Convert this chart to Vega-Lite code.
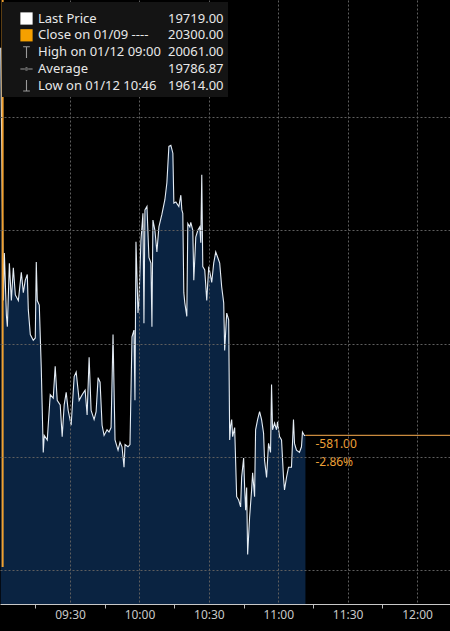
{
  "$schema": "https://vega.github.io/schema/vega-lite/v6.json",
  "width": 450,
  "height": 604,
  "autosize": {"type": "none"},
  "padding": {"left": 0, "top": 0, "right": 0, "bottom": 27},
  "background": "#000000",
  "config": {"view": {"stroke": null}, "font": "Noto Sans"},
  "datasets": {
    "series": [
      {"t": "2024-01-12T09:00:00", "p": 20061},
      {"t": "2024-01-12T09:01:10", "p": 19838},
      {"t": "2024-01-12T09:01:35", "p": 19880},
      {"t": "2024-01-12T09:02:28", "p": 19825},
      {"t": "2024-01-12T09:02:53", "p": 19815},
      {"t": "2024-01-12T09:03:45", "p": 19871},
      {"t": "2024-01-12T09:04:37", "p": 19838},
      {"t": "2024-01-12T09:05:28", "p": 19867},
      {"t": "2024-01-12T09:06:20", "p": 19843},
      {"t": "2024-01-12T09:07:38", "p": 19838},
      {"t": "2024-01-12T09:08:55", "p": 19863},
      {"t": "2024-01-12T09:09:47", "p": 19845},
      {"t": "2024-01-12T09:10:38", "p": 19856},
      {"t": "2024-01-12T09:11:30", "p": 19861},
      {"t": "2024-01-12T09:11:56", "p": 19830},
      {"t": "2024-01-12T09:12:48", "p": 19808},
      {"t": "2024-01-12T09:14:05", "p": 19803},
      {"t": "2024-01-12T09:14:57", "p": 19805},
      {"t": "2024-01-12T09:15:23", "p": 19872},
      {"t": "2024-01-12T09:15:49", "p": 19838},
      {"t": "2024-01-12T09:16:41", "p": 19834},
      {"t": "2024-01-12T09:17:32", "p": 19779},
      {"t": "2024-01-12T09:18:24", "p": 19704},
      {"t": "2024-01-12T09:18:50", "p": 19719},
      {"t": "2024-01-12T09:20:08", "p": 19715},
      {"t": "2024-01-12T09:21:25", "p": 19755},
      {"t": "2024-01-12T09:22:43", "p": 19752},
      {"t": "2024-01-12T09:23:34", "p": 19780},
      {"t": "2024-01-12T09:24:26", "p": 19750},
      {"t": "2024-01-12T09:25:44", "p": 19746},
      {"t": "2024-01-12T09:26:35", "p": 19718},
      {"t": "2024-01-12T09:27:27", "p": 19746},
      {"t": "2024-01-12T09:28:19", "p": 19757},
      {"t": "2024-01-12T09:29:11", "p": 19741},
      {"t": "2024-01-12T09:30:28", "p": 19728},
      {"t": "2024-01-12T09:31:46", "p": 19771},
      {"t": "2024-01-12T09:32:38", "p": 19775},
      {"t": "2024-01-12T09:33:55", "p": 19750},
      {"t": "2024-01-12T09:35:13", "p": 19755},
      {"t": "2024-01-12T09:36:30", "p": 19759},
      {"t": "2024-01-12T09:37:22", "p": 19737},
      {"t": "2024-01-12T09:38:14", "p": 19788},
      {"t": "2024-01-12T09:39:05", "p": 19741},
      {"t": "2024-01-12T09:40:23", "p": 19733},
      {"t": "2024-01-12T09:41:15", "p": 19740},
      {"t": "2024-01-12T09:42:07", "p": 19770},
      {"t": "2024-01-12T09:42:58", "p": 19766},
      {"t": "2024-01-12T09:43:50", "p": 19728},
      {"t": "2024-01-12T09:44:42", "p": 19719},
      {"t": "2024-01-12T09:45:59", "p": 19724},
      {"t": "2024-01-12T09:46:51", "p": 19722},
      {"t": "2024-01-12T09:47:43", "p": 19726},
      {"t": "2024-01-12T09:48:34", "p": 19808},
      {"t": "2024-01-12T09:49:26", "p": 19715},
      {"t": "2024-01-12T09:50:44", "p": 19706},
      {"t": "2024-01-12T09:51:35", "p": 19713},
      {"t": "2024-01-12T09:52:27", "p": 19709},
      {"t": "2024-01-12T09:53:19", "p": 19691},
      {"t": "2024-01-12T09:53:45", "p": 19711},
      {"t": "2024-01-12T09:55:02", "p": 19709},
      {"t": "2024-01-12T09:55:54", "p": 19711},
      {"t": "2024-01-12T09:56:46", "p": 19806},
      {"t": "2024-01-12T09:57:37", "p": 19812},
      {"t": "2024-01-12T09:58:03", "p": 19750},
      {"t": "2024-01-12T09:58:29", "p": 19890},
      {"t": "2024-01-12T09:58:55", "p": 19859},
      {"t": "2024-01-12T09:59:21", "p": 19827},
      {"t": "2024-01-12T09:59:47", "p": 19838},
      {"t": "2024-01-12T10:00:38", "p": 19891},
      {"t": "2024-01-12T10:01:30", "p": 19915},
      {"t": "2024-01-12T10:01:56", "p": 19818},
      {"t": "2024-01-12T10:02:22", "p": 19918},
      {"t": "2024-01-12T10:03:14", "p": 19921},
      {"t": "2024-01-12T10:04:05", "p": 19876},
      {"t": "2024-01-12T10:04:57", "p": 19871},
      {"t": "2024-01-12T10:05:23", "p": 19815},
      {"t": "2024-01-12T10:05:49", "p": 19909},
      {"t": "2024-01-12T10:06:40", "p": 19900},
      {"t": "2024-01-12T10:07:32", "p": 19881},
      {"t": "2024-01-12T10:08:24", "p": 19903},
      {"t": "2024-01-12T10:09:41", "p": 19914},
      {"t": "2024-01-12T10:10:59", "p": 19927},
      {"t": "2024-01-12T10:11:51", "p": 19942},
      {"t": "2024-01-12T10:12:43", "p": 19974},
      {"t": "2024-01-12T10:13:34", "p": 19975},
      {"t": "2024-01-12T10:14:26", "p": 19968},
      {"t": "2024-01-12T10:14:52", "p": 19924},
      {"t": "2024-01-12T10:15:44", "p": 19925},
      {"t": "2024-01-12T10:17:01", "p": 19921},
      {"t": "2024-01-12T10:17:53", "p": 19931},
      {"t": "2024-01-12T10:18:19", "p": 19918},
      {"t": "2024-01-12T10:18:44", "p": 19915},
      {"t": "2024-01-12T10:19:10", "p": 19845},
      {"t": "2024-01-12T10:19:36", "p": 19836},
      {"t": "2024-01-12T10:20:28", "p": 19824},
      {"t": "2024-01-12T10:20:54", "p": 19906},
      {"t": "2024-01-12T10:21:46", "p": 19903},
      {"t": "2024-01-12T10:22:11", "p": 19907},
      {"t": "2024-01-12T10:23:03", "p": 19900},
      {"t": "2024-01-12T10:23:29", "p": 19856},
      {"t": "2024-01-12T10:24:21", "p": 19894},
      {"t": "2024-01-12T10:25:13", "p": 19900},
      {"t": "2024-01-12T10:26:04", "p": 19903},
      {"t": "2024-01-12T10:26:30", "p": 19889},
      {"t": "2024-01-12T10:26:56", "p": 19949},
      {"t": "2024-01-12T10:27:22", "p": 19868},
      {"t": "2024-01-12T10:28:13", "p": 19865},
      {"t": "2024-01-12T10:29:05", "p": 19838},
      {"t": "2024-01-12T10:29:57", "p": 19868},
      {"t": "2024-01-12T10:30:49", "p": 19859},
      {"t": "2024-01-12T10:31:14", "p": 19854},
      {"t": "2024-01-12T10:32:06", "p": 19871},
      {"t": "2024-01-12T10:32:58", "p": 19881},
      {"t": "2024-01-12T10:33:50", "p": 19876},
      {"t": "2024-01-12T10:34:41", "p": 19871},
      {"t": "2024-01-12T10:35:33", "p": 19850},
      {"t": "2024-01-12T10:36:25", "p": 19836},
      {"t": "2024-01-12T10:36:50", "p": 19794},
      {"t": "2024-01-12T10:37:43", "p": 19827},
      {"t": "2024-01-12T10:38:34", "p": 19821},
      {"t": "2024-01-12T10:39:00", "p": 19715},
      {"t": "2024-01-12T10:39:26", "p": 19728},
      {"t": "2024-01-12T10:39:52", "p": 19733},
      {"t": "2024-01-12T10:40:17", "p": 19718},
      {"t": "2024-01-12T10:41:09", "p": 19726},
      {"t": "2024-01-12T10:42:01", "p": 19665},
      {"t": "2024-01-12T10:42:53", "p": 19662},
      {"t": "2024-01-12T10:43:44", "p": 19656},
      {"t": "2024-01-12T10:44:10", "p": 19682},
      {"t": "2024-01-12T10:45:02", "p": 19699},
      {"t": "2024-01-12T10:45:28", "p": 19673},
      {"t": "2024-01-12T10:45:54", "p": 19653},
      {"t": "2024-01-12T10:46:20", "p": 19673},
      {"t": "2024-01-12T10:46:46", "p": 19614},
      {"t": "2024-01-12T10:47:37", "p": 19647},
      {"t": "2024-01-12T10:48:29", "p": 19671},
      {"t": "2024-01-12T10:48:55", "p": 19686},
      {"t": "2024-01-12T10:49:46", "p": 19665},
      {"t": "2024-01-12T10:50:12", "p": 19724},
      {"t": "2024-01-12T10:51:04", "p": 19733},
      {"t": "2024-01-12T10:51:56", "p": 19740},
      {"t": "2024-01-12T10:52:47", "p": 19733},
      {"t": "2024-01-12T10:53:39", "p": 19721},
      {"t": "2024-01-12T10:54:05", "p": 19697},
      {"t": "2024-01-12T10:54:57", "p": 19682},
      {"t": "2024-01-12T10:55:48", "p": 19712},
      {"t": "2024-01-12T10:56:40", "p": 19704},
      {"t": "2024-01-12T10:57:06", "p": 19764},
      {"t": "2024-01-12T10:57:32", "p": 19724},
      {"t": "2024-01-12T10:58:24", "p": 19730},
      {"t": "2024-01-12T10:59:15", "p": 19724},
      {"t": "2024-01-12T10:59:41", "p": 19731},
      {"t": "2024-01-12T11:00:33", "p": 19718},
      {"t": "2024-01-12T11:01:25", "p": 19715},
      {"t": "2024-01-12T11:02:16", "p": 19682},
      {"t": "2024-01-12T11:02:42", "p": 19671},
      {"t": "2024-01-12T11:03:34", "p": 19682},
      {"t": "2024-01-12T11:04:26", "p": 19691},
      {"t": "2024-01-12T11:05:43", "p": 19691},
      {"t": "2024-01-12T11:06:35", "p": 19733},
      {"t": "2024-01-12T11:07:01", "p": 19712},
      {"t": "2024-01-12T11:07:53", "p": 19706},
      {"t": "2024-01-12T11:09:10", "p": 19704},
      {"t": "2024-01-12T11:10:02", "p": 19709},
      {"t": "2024-01-12T11:10:28", "p": 19722},
      {"t": "2024-01-12T11:11:19", "p": 19719},
      {"t": "2024-01-12T11:11:45", "p": 19719}
    ],
    "close": [{"t": "2024-01-12T09:00:50", "p": 19603, "p2": 20300}],
    "last": [{"t": "2024-01-12T11:11:45", "t2": "2024-01-12T12:14:15", "p": 19719, "label": "-581.00\n-2.86%"}],
    "legend": [
      {"name": "Last Price", "value": "19719.00"},
      {"name": "Close on 01/09 ----", "value": "20300.00"},
      {"name": "High on 01/12 09:00", "value": "20061.00"},
      {"name": "Average", "value": "19786.87"},
      {"name": "Low on 01/12 10:46", "value": "19614.00"}
    ]
  },
  "layer": [
    {
      "data": {"name": "series"},
      "mark": {"type": "area", "color": "#0a2341", "clip": true},
      "encoding": {
        "x": {
          "field": "t", "type": "temporal", "title": null,
          "scale": {"domain": ["2024-01-12T08:59:42", "2024-01-12T12:14:15"], "nice": false},
          "axis": {
            "values": [
              {"year": 2024, "month": 1, "date": 12, "hours": 9, "minutes": 15},
              {"year": 2024, "month": 1, "date": 12, "hours": 9, "minutes": 30},
              {"year": 2024, "month": 1, "date": 12, "hours": 9, "minutes": 45},
              {"year": 2024, "month": 1, "date": 12, "hours": 10, "minutes": 0},
              {"year": 2024, "month": 1, "date": 12, "hours": 10, "minutes": 15},
              {"year": 2024, "month": 1, "date": 12, "hours": 10, "minutes": 30},
              {"year": 2024, "month": 1, "date": 12, "hours": 10, "minutes": 45},
              {"year": 2024, "month": 1, "date": 12, "hours": 11, "minutes": 0},
              {"year": 2024, "month": 1, "date": 12, "hours": 11, "minutes": 15},
              {"year": 2024, "month": 1, "date": 12, "hours": 11, "minutes": 30},
              {"year": 2024, "month": 1, "date": 12, "hours": 11, "minutes": 45},
              {"year": 2024, "month": 1, "date": 12, "hours": 12, "minutes": 0}
            ],
            "labelExpr": "minutes(datum.value) % 30 == 0 ? timeFormat(datum.value, '%H:%M') : ''",
            "grid": true,
            "gridColor": "#5e5e5e",
            "gridDash": [2, 2],
            "gridWidth": 1,
            "gridOpacity": {"condition": {"test": "minutes(datum.value) % 30 == 0", "value": 1}, "value": 0},
            "tickOpacity": {"condition": {"test": "minutes(datum.value) % 30 == 0", "value": 0}, "value": 1},
            "tickColor": "#bbbbbb",
            "tickSize": 4,
            "domainColor": "#c8c8c8",
            "labelColor": "#c8c8c8",
            "labelFont": "Noto Sans",
            "labelFontSize": 12,
            "labelPadding": 1,
            "labelOverlap": false,
            "labelFlush": false,
            "zindex": 1
          }
        },
        "y": {
          "field": "p", "type": "quantitative", "title": null,
          "scale": {"domain": [19570.3, 20103.2], "nice": false, "zero": false},
          "axis": {
            "orient": "right",
            "values": [19600, 19700, 19800, 19900, 20000],
            "labels": false,
            "ticks": false,
            "domain": false,
            "grid": true,
            "gridColor": "#5e5e5e",
            "gridDash": [2, 2],
            "zindex": 1
          }
        }
      }
    },
    {
      "data": {"name": "series"},
      "mark": {"type": "line", "color": "#e4ecf4", "strokeWidth": 1.1, "clip": true},
      "encoding": {
        "x": {"field": "t", "type": "temporal", "title": null},
        "y": {"field": "p", "type": "quantitative", "title": null}
      }
    },
    {
      "data": {"name": "last"},
      "mark": {"type": "rule", "color": "#c98a3e", "strokeWidth": 1.3, "clip": true},
      "encoding": {
        "x": {"field": "t", "type": "temporal", "title": null},
        "x2": {"field": "t2"},
        "y": {"field": "p", "type": "quantitative", "title": null}
      }
    },
    {
      "data": {"name": "last"},
      "mark": {"type": "text", "align": "left", "baseline": "top", "dx": 10, "dy": 4, "lineBreak": "\n", "lineHeight": 18, "color": "#eea037", "font": "Noto Sans", "fontSize": 12},
      "encoding": {
        "x": {"field": "t", "type": "temporal", "title": null},
        "y": {"field": "p", "type": "quantitative", "title": null},
        "text": {"field": "label"}
      }
    },
    {
      "data": {"name": "close"},
      "mark": {"type": "rule", "color": "#f0a030", "strokeWidth": 2, "clip": true},
      "encoding": {
        "x": {"field": "t", "type": "temporal", "title": null},
        "y": {"field": "p", "type": "quantitative", "title": null},
        "y2": {"field": "p2"}
      }
    },
    {
      "data": {"name": "legend"},
      "transform": [{"filter": "false"}],
      "mark": {"type": "point", "filled": true, "opacity": 1},
      "encoding": {
        "color": {
          "field": "name", "type": "nominal",
          "scale": {
            "domain": ["Last Price", "Close on 01/09 ----", "High on 01/12 09:00", "Average", "Low on 01/12 10:46"],
            "range": ["#ffffff", "#f5a000", "#9a9a9a", "#9a9a9a", "#9a9a9a"]
          },
          "legend": {
            "title": " ",
            "titleFontSize": 4,
            "titlePadding": 2,
            "orient": "none",
            "legendX": 2,
            "legendY": 2,
            "rowPadding": 2.8,
            "padding": 4,
            "fillColor": "#141414",
            "symbolSize": 150,
            "symbolOffset": 14,
            "symbolOpacity": 1,
            "symbolStrokeWidth": 0,
            "labelOffset": 5,
            "labelColor": "#e8e8e8",
            "labelFont": "Noto Sans",
            "labelFontSize": 13,
            "labelLimit": 300,
            "zindex": 2
          }
        },
        "shape": {
          "field": "name", "type": "nominal",
          "scale": {
            "domain": ["Last Price", "Close on 01/09 ----", "High on 01/12 09:00", "Average", "Low on 01/12 10:46"],
            "range": ["square", "square", "M-0.55,-0.95H0.55V-0.78H0.09V0.95H-0.09V-0.78H-0.55Z", "M-1,-0.08H1V0.08H-1Z M-0.28,0A0.28,0.28 0 1,0 0.28,0A0.28,0.28 0 1,0 -0.28,0Z", "M-0.09,-0.95H0.09V0.78H0.55V0.95H-0.55V0.78H-0.09Z"]
          }
        },
        "strokeDash": {
          "field": "value", "type": "nominal",
          "scale": {
            "domain": ["19719.00", "20300.00", "20061.00", "19786.87", "19614.00"],
            "range": [[1, 0], [1, 0], [1, 0], [1, 0], [1, 0]]
          },
          "legend": {
            "title": " ",
            "titleFontSize": 4,
            "titlePadding": 2,
            "orient": "none",
            "legendX": 151,
            "legendY": 2,
            "rowPadding": 2.8,
            "padding": 4,
            "fillColor": "#141414",
            "symbolSize": 1,
            "symbolOpacity": 0,
            "symbolStrokeWidth": 0,
            "labelOffset": 0,
            "labelColor": "#e8e8e8",
            "labelFont": "Noto Sans",
            "labelFontSize": 13,
            "zindex": 1
          }
        }
      }
    }
  ]
}
